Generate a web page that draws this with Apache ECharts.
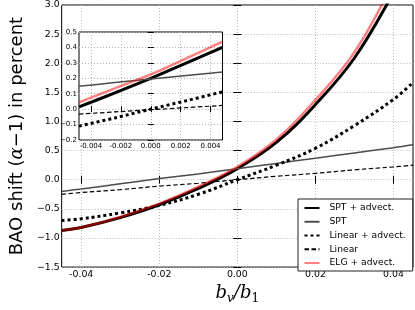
<!DOCTYPE html>
<html><head><meta charset="utf-8">
<script src="https://cdn.jsdelivr.net/npm/echarts@6/dist/echarts.min.js"></script>
<style>html,body{margin:0;padding:0;background:#fff}#c{width:415px;height:310px}</style>
</head><body><div id="c"></div>
<script>
// ---- data ----
const seriesNames = ['SPT + advect.', 'SPT', 'Linear + advect.', 'Linear', 'ELG + advect.'];

const xMain = [-0.045, -0.04, -0.03, -0.02, -0.01, 0, 0.01, 0.02, 0.03, 0.04, 0.045];
const sptAdvMain = [-0.87, -0.82, -0.65, -0.43, -0.15, 0.19, 0.64, 1.29, 2.09, 3.21, 3.85];
const sptMain = [-0.20, -0.16, -0.07, 0.02, 0.10, 0.19, 0.28, 0.37, 0.46, 0.55, 0.60];
const linAdvMain = [-0.70, -0.67, -0.57, -0.44, -0.25, 0.0, 0.25, 0.54, 0.93, 1.38, 1.67];
const linMain = [-0.25, -0.22, -0.17, -0.11, -0.06, 0.0, 0.06, 0.11, 0.17, 0.22, 0.25];
const elgAdvMain = [-0.87, -0.82, -0.64, -0.41, -0.12, 0.22, 0.69, 1.37, 2.19, 3.38, 4.05];

const xInset = [-0.0048, -0.0024, 0, 0.0024, 0.0048];
const sptAdvInset = [0.015, 0.105, 0.20, 0.30, 0.40];
const sptInset = [0.149, 0.172, 0.195, 0.218, 0.24];
const linAdvInset = [-0.11, -0.057, 0.0, 0.055, 0.112];
const linInset = [-0.032, -0.018, -0.004, 0.010, 0.024];
const elgAdvInset = [0.044, 0.135, 0.225, 0.33, 0.438];

const xTicksMain = [-0.04, -0.02, 0, 0.02, 0.04];
const xTicksInset = [-0.004, -0.002, 0, 0.002, 0.004];

// ---- presentation ----
const FONT = 'DejaVu Sans';
const minus = s => s.replace('-', '\u2212');
const fy = v => minus((Math.abs(v) < 1e-9 ? 0 : v).toFixed(1));

const styles = [
  { color: '#000000', width: 3, type: 'solid' },
  { color: '#4c4c4c', width: 1.5, type: 'solid' },
  { color: '#000000', width: 3, type: [3, 3] },
  { color: '#000000', width: 1.2, type: [4.5, 2.5] },
  { color: 'rgba(255,0,0,0.5)', width: 2.5, type: 'solid' }
];

const gridLine = { show: true, lineStyle: { color: '#b5b5b5', type: [1, 2], width: 1 } };

function xAxisDef(grid, pos, min, max, ticks, digits, labels, tickLen, fs, splits, extra) {
  return Object.assign({
    type: 'value', gridIndex: grid, position: pos, min: min, max: max,
    axisLine: { show: false },
    axisTick: { show: true, inside: true, length: tickLen, customValues: ticks, lineStyle: { color: '#000', width: 1 } },
    axisLabel: { show: labels, customValues: ticks, margin: 3, fontFamily: FONT, fontSize: fs, color: '#000',
      formatter: v => (Math.abs(v) < 1e-9 ? 0 : v).toFixed(digits) },
    splitLine: splits ? gridLine : { show: false }
  }, extra || {});
}
function yAxisDef(grid, pos, min, max, interval, labels, tickLen, fs, splits, extra) {
  return Object.assign({
    type: 'value', gridIndex: grid, position: pos, min: min, max: max, interval: interval,
    axisLine: { show: false },
    axisTick: { show: true, inside: true, length: tickLen, lineStyle: { color: '#000', width: 1 } },
    axisLabel: { show: labels, margin: 2, fontFamily: FONT, fontSize: fs, color: '#000', formatter: fy },
    splitLine: splits ? gridLine : { show: false }
  }, extra || {});
}

const mainSets = [sptAdvMain, sptMain, linAdvMain, linMain, elgAdvMain];
const insetSets = [sptAdvInset, sptInset, linAdvInset, linInset, elgAdvInset];

const series = [];
mainSets.forEach((arr, i) => {
  series.push({
    name: seriesNames[i], type: 'line', xAxisIndex: 0, yAxisIndex: 0,
    data: xMain.map((x, j) => [x, arr[j]]), smooth: 0.4, showSymbol: false, symbol: 'none',
    lineStyle: styles[i], itemStyle: { color: styles[i].color }, z: 2 + i * 0.01, clip: true, silent: true
  });
});
insetSets.forEach((arr, i) => {
  series.push({
    name: seriesNames[i], type: 'line', xAxisIndex: 2, yAxisIndex: 2,
    data: xInset.map((x, j) => [x, arr[j]]), smooth: 0.3, showSymbol: false, symbol: 'none',
    lineStyle: styles[i], itemStyle: { color: styles[i].color }, z: 12 + i * 0.01, clip: true, silent: true
  });
});

const option = {
  animation: false,
  backgroundColor: '#fff',
  grid: [
    { left: 45, top: 5, width: 368, height: 272, show: true, borderColor: '#000', borderWidth: 1, backgroundColor: 'transparent', z: 0 },
    { left: 79, top: 32, width: 143.5, height: 108, show: true, borderColor: '#000', borderWidth: 1, backgroundColor: '#fff', z: 10 }
  ],
  xAxis: [
    xAxisDef(0, 'bottom', -0.045, 0.045, xTicksMain, 2, true, 4, 9.4, true, {
      name: '{b|b}{s|v}{b|/b}{s1|1}', nameLocation: 'middle', nameGap: 9,
      nameTextStyle: { color: '#000', rich: {
        b: { fontFamily: 'DejaVu Serif', fontStyle: 'italic', fontSize: 18, lineHeight: 24, verticalAlign: 'middle', color: '#000' },
        s: { fontFamily: 'DejaVu Serif', fontStyle: 'italic', fontSize: 12, lineHeight: 12, verticalAlign: 'bottom', color: '#000' },
        s1: { fontFamily: 'DejaVu Serif', fontSize: 12, lineHeight: 12, verticalAlign: 'bottom', color: '#000' }
      } }
    }),
    xAxisDef(0, 'top', -0.045, 0.045, xTicksMain, 2, false, 4, 9.4, false),
    xAxisDef(1, 'bottom', -0.0048, 0.0048, xTicksInset, 3, true, 3, 7, true, { z: 11 }),
    xAxisDef(1, 'top', -0.0048, 0.0048, xTicksInset, 3, false, 3, 7, false, { z: 11 })
  ],
  yAxis: [
    yAxisDef(0, 'left', -1.5, 3.0, 0.5, true, 4, 9.4, true, {
      name: 'BAO shift ({i|\u03b1}\u22121) in percent', nameLocation: 'middle', nameGap: 33,
      nameTextStyle: { fontFamily: FONT, fontSize: 18, color: '#000', rich: {
        i: { fontFamily: 'DejaVu Serif', fontStyle: 'italic', fontSize: 18, color: '#000' }
      } }
    }),
    yAxisDef(0, 'right', -1.5, 3.0, 0.5, false, 4, 9.4, false),
    yAxisDef(1, 'left', -0.2, 0.5, 0.1, true, 3, 7, true, { z: 11 }),
    yAxisDef(1, 'right', -0.2, 0.5, 0.1, false, 3, 7, false, { z: 11 })
  ],
  legend: {
    data: seriesNames, orient: 'vertical', left: 298, top: 199,
    padding: [4, 7, 3, 5.5], itemWidth: 15, itemHeight: 10, itemGap: 3.75,
    backgroundColor: '#fff', borderColor: '#222', borderWidth: 1, borderRadius: 0,
    selectedMode: false,
    itemStyle: { opacity: 0, borderWidth: 0 },
    textStyle: { fontFamily: FONT, fontSize: 9.2, color: '#000', lineHeight: 10, padding: [0, 0, 0, 5] }
  },
  series: series
};

const chart = echarts.init(document.getElementById('c'), null, { renderer: 'canvas' });
chart.setOption(option);
</script>
</body></html>
